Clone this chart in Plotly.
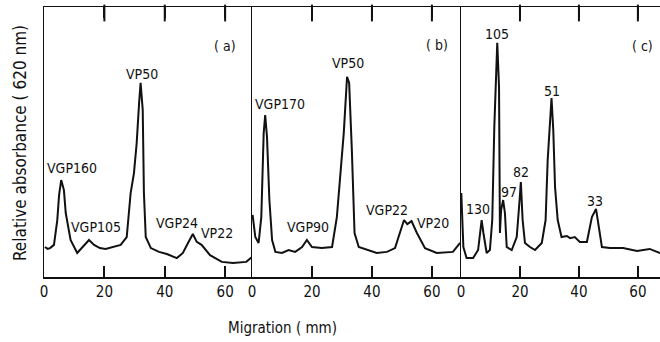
import plotly.graph_objects as go

# ---- data ----
a_x = [0.3, 1.2, 2.0, 3.3, 4.4, 5.0, 5.7, 6.6, 7.2, 8.8, 11.0, 12.7, 14.9, 16.6, 18.5, 20.4, 23.0, 25.4,
       27.4, 28.7, 29.8, 30.7, 31.5, 32.0, 32.7, 33.1, 33.7, 35.4, 38.1, 40.7, 44.0, 46.0, 47.7, 49.3,
       50.6, 52.2, 55.0, 58.9, 62.6, 67.0, 68.9]
a_y = [11.1, 10.4, 10.7, 11.9, 21.1, 30.4, 35.9, 32.2, 23.7, 13.7, 8.9, 11.1, 13.7, 11.9, 10.7, 10.4, 11.1, 11.9,
       14.8, 31.1, 38.5, 49.6, 64.4, 71.9, 61.9, 31.1, 14.8, 10.7, 9.3, 8.5, 7.0, 8.9, 12.6, 15.9,
       13.0, 11.9, 8.1, 5.6, 5.2, 5.6, 7.4]

b_x = [0.2, 1.1, 2.2, 3.1, 3.9, 4.4, 5.0, 5.8, 6.7, 7.8, 10.0, 12.2, 14.4, 16.7, 18.3, 20.0, 23.3, 26.7,
       28.3, 29.4, 30.6, 31.7, 32.4, 33.3, 34.2, 35.6, 38.9, 41.6, 45.0, 47.7, 49.3, 50.7, 51.8, 53.2,
       55.0, 57.7, 61.6, 67.0, 69.4]
b_y = [23.0, 14.8, 12.6, 22.2, 53.3, 60.0, 51.9, 28.5, 13.7, 9.3, 8.9, 10.0, 9.3, 11.1, 13.7, 11.1, 10.7, 11.1,
       22.2, 37.0, 53.3, 74.1, 71.9, 47.0, 16.3, 11.1, 10.0, 8.9, 9.3, 10.7, 16.3, 21.1, 19.6, 20.7,
       16.3, 10.7, 8.9, 9.3, 12.6]

c_x = [0.1, 0.8, 1.9, 4.1, 5.8, 7.0, 7.6, 8.7, 9.8, 10.6, 11.3, 12.3, 12.9, 13.2, 13.6, 14.3, 14.9, 15.5,
       17.2, 18.9, 19.8, 20.3, 20.9, 21.7, 23.4, 25.1, 27.4, 28.7, 29.4, 30.2, 30.7, 31.3, 31.9, 32.8,
       34.1, 35.9, 37.0, 38.6, 40.3, 42.7, 44.4, 45.8, 46.8, 47.8, 50.5, 55.0, 59.7, 64.0, 67.5]
c_y = [31.1, 11.1, 7.0, 7.0, 10.0, 21.1, 16.3, 8.9, 10.0, 21.1, 55.6, 86.7, 70.4, 16.3, 24.8, 28.5, 23.7, 11.1,
       10.0, 14.8, 27.4, 35.2, 21.1, 12.6, 11.1, 10.0, 12.6, 21.1, 43.3, 58.1, 66.3, 54.4, 33.3, 21.1,
       14.8, 15.2, 14.4, 14.8, 13.0, 13.0, 22.2, 25.2, 18.5, 11.1, 10.7, 10.7, 9.6, 10.4, 8.9]

tick_vals = [0, 20, 40, 60]
tick_text = ["0", "20", "40", "60"]

a_labels = ["VGP160", "VGP105", "VP50", "VGP24", "VP22", "( a)"]
a_lx = [9.3, 17.2, 32.5, 44.1, 57.3, 60.0]
a_ly = [40.4, 18.5, 75.2, 20.0, 16.3, 85.6]

b_labels = ["VGP170", "VGP90", "VP50", "VGP22", "VP20", "( b)"]
b_lx = [9.3, 18.7, 32.0, 45.0, 60.3, 61.7]
b_ly = [64.1, 18.5, 79.3, 24.8, 20.0, 85.9]

c_labels = ["105", "51", "82", "97", "130", "33", "( c)"]
c_lx = [12.2, 30.8, 20.3, 16.3, 5.8, 45.4, 61.4]
c_ly = [90.0, 68.9, 38.9, 31.5, 25.2, 28.1, 85.6]

Y_RANGE = [0, 100]

panels = [
    ("x", "y", a_x, a_y, a_labels, a_lx, a_ly, [0, 68.9]),
    ("x2", "y2", b_x, b_y, b_labels, b_lx, b_ly, [0, 69.7]),
    ("x3", "y3", c_x, c_y, c_labels, c_lx, c_ly, [0, 67.5]),
]

# ---- layout geometry ----
W, H = 660, 342
L, R, T, B = 44, 0, 7, 65
pw = W - L - R
ph = H - T - B
edges = [44, 252, 461, 660]
domains = [[(edges[i] - L) / pw, (edges[i + 1] - L) / pw] for i in range(3)]
TICK_LEN = 12  # px, inward tick length along the top frame
units_per_px = (Y_RANGE[1] - Y_RANGE[0]) / ph
top_tick_y = Y_RANGE[1] - (TICK_LEN / 2) * units_per_px

FONT = "DejaVu Sans Condensed, Liberation Sans Narrow, Arial Narrow, sans-serif"
INK = "#111111"

fig = go.Figure()
annotations = []
layout = dict(
    width=W, height=H,
    margin=dict(l=L, r=R, t=T, b=B),
    plot_bgcolor="white", paper_bgcolor="white",
    showlegend=False,
    font=dict(family=FONT, color=INK, size=14),
)

for i, (xa, ya, xs, ys, labs, lx, ly, rng) in enumerate(panels):
    fig.add_trace(go.Scatter(x=xs, y=ys, xaxis=xa, yaxis=ya, mode="lines",
                             line=dict(color=INK, width=2), hoverinfo="skip"))
    # inward tick marks hanging from the top frame
    top_ticks = [t for t in tick_vals if t > 0]
    fig.add_trace(go.Scatter(x=top_ticks, y=[top_tick_y] * len(top_ticks), xaxis=xa, yaxis=ya,
                             mode="markers", cliponaxis=False, hoverinfo="skip",
                             marker=dict(symbol="line-ns", size=TICK_LEN, color=INK,
                                         line=dict(color=INK, width=2))))
    xkey = "xaxis" if i == 0 else f"xaxis{i+1}"
    ykey = "yaxis" if i == 0 else f"yaxis{i+1}"
    layout[xkey] = dict(
        domain=domains[i], range=rng, anchor=ya,
        tickvals=tick_vals, ticktext=tick_text,
        ticks="inside", ticklen=11, tickwidth=2, tickcolor=INK,
        showline=True, linecolor=INK, linewidth=1.5, mirror="ticks",
        showgrid=False, zeroline=False,
        tickfont=dict(family=FONT, size=15, color=INK),
    )
    layout[ykey] = dict(
        domain=[0, 1], range=Y_RANGE, anchor=xa,
        showline=True, linecolor=INK, linewidth=1.5, mirror=False,
        showticklabels=False, ticks="", showgrid=False, zeroline=False,
    )
    for t, x, y in zip(labs, lx, ly):
        annotations.append(dict(text=t, x=x, y=y, xref=xa, yref=ya, showarrow=False,
                                font=dict(family=FONT, size=14, color=INK),
                                xanchor="center", yanchor="middle"))

annotations.append(dict(text="Migration ( mm)", xref="paper", yref="paper",
                        x=(282 - L) / pw, y=(H - B - 328) / ph,
                        showarrow=False, xanchor="center", yanchor="middle",
                        font=dict(family=FONT, size=15, color=INK)))
annotations.append(dict(text="Relative absorbance ( 620 nm)", xref="paper", yref="paper",
                        x=(20 - L) / pw, y=(H - B - 143) / ph, textangle=-90,
                        showarrow=False, xanchor="center", yanchor="middle",
                        font=dict(family=FONT, size=17, color=INK)))
layout["annotations"] = annotations

fig.update_layout(**layout)
fig.write_html("out.html",
               config={"displayModeBar": False, "staticPlot": True},
               post_script="document.body.style.margin='0';document.body.style.overflow='hidden';")
